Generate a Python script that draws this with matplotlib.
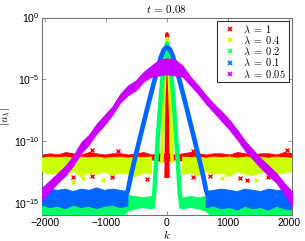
import numpy as np
import matplotlib
matplotlib.use('Agg')
import matplotlib.pyplot as plt
from matplotlib.lines import Line2D
from matplotlib.ticker import NullLocator

plt.rcParams['font.family'] = ['Liberation Sans', 'DejaVu Sans']
plt.rcParams['mathtext.fontset'] = 'cm'

nan = np.nan

# series labels and colours (hsv(5))
lams = ['1', '0.4', '0.2', '0.1', '0.05']
colors = [(1, 0, 0), (0.8, 1, 0), (0, 1, 0.4), (0, 0.4, 1), (0.8, 0, 1)]

# wavenumbers where the noise floor / band edges were read (every 128)
k_nodes = np.arange(-2048, 2049, 128)

# log10 |u| band edges
red_top = [-11.1, -11.0, -11.1, -10.9, -11.0, -11.1, -10.9, -11.0, -11.1, -11.0, -11.0,
           -11.1, -11.0, -10.9, -11.1, -11.0, -11.0, -11.1, -11.0, -10.9, -11.0, -11.1,
           -11.0, -11.0, -11.1, -10.9, -11.0, -11.1, -11.0, -11.0, -11.1, -10.9, -11.0]
red_bot = [-11.6, -11.6, -11.5, -11.6, -11.6, -11.5, -11.6, -11.6, -11.5, -11.6, -11.6,
           -11.5, -11.6, -11.6, -11.5, -11.6, -11.6, -11.5, -11.6, -11.6, -11.5, -11.6,
           -11.6, -11.5, -11.6, -11.6, -11.5, -11.6, -11.6, -11.5, -11.6, -11.6, -11.5]
yellow_top = [-11.4, -11.3, -11.35, -11.3, -11.4, -11.3, -11.35, -11.3, -11.4, -11.35, -11.3,
              -11.4, -11.3, -11.35, -11.3, nan, nan, nan, -11.3, -11.35, -11.3, -11.4,
              -11.3, -11.35, -11.3, -11.4, -11.3, -11.35, -11.3, -11.4, -11.3, -11.35, -11.4]
yellow_bot = [-12.5, -12.7, -12.6, -12.8, -12.5, -12.9, -12.6, -12.7, -12.5, -12.8, -12.6,
              -12.7, -12.9, -12.6, -12.7, nan, nan, nan, -12.7, -12.6, -12.8, -12.5,
              -12.7, -12.6, -12.9, -12.5, -12.7, -12.8, -12.6, -12.5, -12.7, -12.6, -12.5]
green_top = [-14.2, -14.4, -14.3, -14.2, -14.4, -14.3, -14.5, -14.2, -14.4, -14.3, -14.2,
             -14.4, -14.5, -14.6, -14.5, nan, nan, nan, -14.6, -14.5, -14.6, -14.5,
             -14.2, -14.4, -14.3, -14.2, -14.4, -14.3, -14.5, -14.2, -14.4, -14.3, -14.2]
green_bot = [-16.3, -16.3, -16.3, -16.3, -16.3, -16.3, -16.3, -16.3, -16.3, -16.3, -16.3,
             -15.7, -15.5, -15.4, -15.5, nan, nan, nan, -15.5, -15.4, -15.5, -15.7,
             -16.3, -16.3, -16.3, -16.3, -16.3, -16.3, -16.3, -16.3, -16.3, -16.3, -16.3]
blue_top = [-13.7, -13.9, -14.0, -13.9, -14.1, -13.9, -14.0, -13.8, -14.0, -13.9, -14.0,
            -14.1, nan, nan, nan, nan, nan, nan, nan, nan, nan, -14.1,
            -14.0, -13.9, -14.0, -14.1, -13.9, -14.0, -14.1, -13.9, -14.0, -14.0, -14.2]
blue_bot = [-15.2, -15.4, -15.3, -15.5, -15.2, -15.4, -15.3, -15.5, -15.3, -15.2, -15.4,
            -15.3, nan, nan, nan, nan, nan, nan, nan, nan, nan, -15.4,
            -15.3, -15.5, -15.4, -15.6, -15.3, -15.5, -15.4, -15.6, -15.3, -15.5, -15.6]
magenta_top = [-13.8, -13.2, -12.6, -12.0, -11.2, -10.1, -9.5, -8.6, -7.9, -7.2, -6.2,
               -5.5, -5.1, -4.4, -3.9, -3.4, -3.3, -3.4, -3.9, -4.8, -5.5, -6.3,
               -7.0, -7.6, -8.3, -9.1, -10.0, -10.7, -11.4, -12.0, -12.6, -13.4, -14.1]
magenta_bot = [-14.8, -14.1, -13.4, -12.8, -12.0, -11.0, -10.3, -9.4, -8.7, -7.9, -6.9,
               -6.3, -5.9, -5.2, -4.8, -4.7, -4.6, -4.7, -4.8, -5.5, -6.2, -7.0,
               -7.7, -8.4, -9.1, -9.9, -10.8, -11.5, -12.2, -12.8, -13.4, -14.3, -15.3]

# central peaks (k, log10 |u|)
red_peak_k = [-20, -16, -12, -8, -4, 0, 4, 8, 12, 16, 20]
red_peak_v = [-13.0, -12.0, -9.5, -6.5, -3.5, -1.3, -3.5, -6.5, -9.5, -12.0, -13.0]
yellow_peak_k = [-85, -75, -65, -55, -45, -30, -15, 0, 15, 30, 45, 55, 65, 75, 85]
yellow_peak_v = [-11.8, -10.4, -8.7, -7.0, -5.5, -3.8, -2.6, -1.7,
                 -2.6, -3.8, -5.5, -7.0, -8.7, -10.4, -11.8]
green_peak_k = [-240, -210, -170, -130, -100, -65, -30, 0,
                30, 65, 100, 130, 170, 210, 240]
green_peak_v = [-15.5, -14.3, -11.2, -8.3, -6.3, -4.3, -2.9, -2.1,
                -2.9, -4.3, -6.3, -8.3, -11.2, -14.3, -15.5]
blue_peak_k = [-700, -640, -600, -500, -400, -300, -200, -100, -50, 0,
               50, 100, 200, 300, 400, 500, 600, 640, 700]
blue_peak_v = [-14.8, -14.0, -13.0, -10.9, -8.9, -6.9, -5.0, -3.2, -2.6, -2.4,
               -2.6, -3.2, -5.0, -6.9, -8.9, -10.9, -13.0, -14.0, -14.8]

# stray points outside the bands
red_out_k = [-1540, -1230, -900, -610, -330, 430, 700, 1200, 1310, 1650, -1230, -800, 430, 1970]
red_out_v = [-12.9, -12.8, -12.9, -13.0, -13.1, -12.9, -12.8, -13.0, -13.2, -12.9,
             -10.7, -10.8, -10.8, -10.7]
yellow_out_k = [-1540, -1380, -1050, -600, 900, 1450]
yellow_out_v = [-13.3, -13.0, -13.2, -13.1, -13.0, -13.2]

bands = [(red_top, red_bot), (yellow_top, yellow_bot), (green_top, green_bot),
         (blue_top, blue_bot), (magenta_top, magenta_bot)]
peaks = [(red_peak_k, red_peak_v), (yellow_peak_k, yellow_peak_v),
         (green_peak_k, green_peak_v), (blue_peak_k, blue_peak_v), None]
strays = [(red_out_k, red_out_v), (yellow_out_k, yellow_out_v), None, None, None]
leg_lw = [2.2, 2.6, 3.2, 3.4, 0]

fig = plt.figure(figsize=(3.05, 2.41), dpi=100)
ax = fig.add_axes([42 / 305, 1 - 215 / 241, 250 / 305, 197.5 / 241])
ax.set_yscale('log')

for i, c in enumerate(colors):
    top, bot = bands[i]
    ax.fill_between(k_nodes, 10.0 ** np.array(bot), 10.0 ** np.array(top),
                    color=c, lw=0.6, edgecolor=c, zorder=2 + i)
    if peaks[i] is not None:
        pk, pv = peaks[i]
        ax.plot(pk, 10.0 ** np.array(pv), color=c, lw=leg_lw[i], zorder=2 + i,
                solid_joinstyle='round', solid_capstyle='butt')
    if strays[i] is not None:
        sk, sv = strays[i]
        ax.plot(sk, 10.0 ** np.array(sv), ls='none', marker='x', ms=2.5, mew=1.0,
                color=c, zorder=2 + i)

ax.set_xlim(-2048, 2048)
ax.set_ylim(1e-16, 1e0)
ax.set_xticks([-2000, -1000, 0, 1000, 2000])
ax.set_yticks([1e0, 1e-5, 1e-10, 1e-15])
ax.yaxis.set_minor_locator(NullLocator())
ax.tick_params(direction='in', top=True, right=True, length=3, width=0.5,
               labelsize=7.5, pad=2, color='0.4')
for s in ax.spines.values():
    s.set_color('0.45')
    s.set_linewidth(0.8)

ax.set_title(r'$t\,=\,0.08$', fontsize=8, pad=3)
ax.set_xlabel(r'$k$', fontsize=8, labelpad=0)
ax.set_ylabel(r'$|\hat{u}_\lambda|$', fontsize=8, labelpad=1)

handles = [Line2D([], [], ls='none', marker='x', ms=2.5, mew=1.2, color=c) for c in colors]
leg = ax.legend(handles, [r'$\lambda\;=\;%s$' % l for l in lams], loc='upper right',
                fontsize=7.5, frameon=True, fancybox=False, borderpad=0.25,
                labelspacing=0.0, handlelength=2.0, handletextpad=0.25,
                borderaxespad=0.3)
leg.get_frame().set_edgecolor('black')
leg.get_frame().set_linewidth(0.8)
leg.set_zorder(20)

fig.savefig('out.png', dpi=100)
